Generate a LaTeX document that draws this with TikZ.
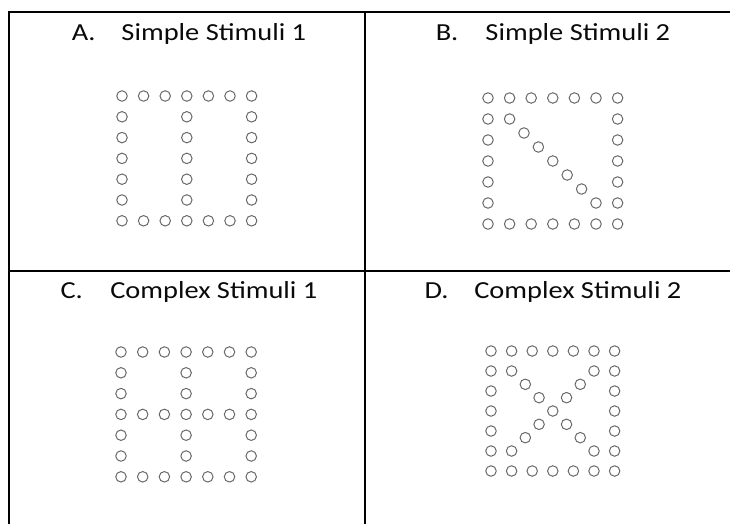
\documentclass[tikz,border=0pt]{standalone}
\usepackage{fontspec}
\usepackage{graphicx}
\setmainfont{Carlito}
\usetikzlibrary{positioning}
\definecolor{ink}{RGB}{10,10,10}
\definecolor{ring}{RGB}{105,105,105}
\tikzset{
  rule/.style={draw=black,line width=2pt},
  caption/.style={anchor=base,text=ink,font=\fontsize{24.5}{29}\selectfont},
  dot/.style={circle,draw=ring,line width=1pt,inner sep=0pt,minimum size=10.5pt},
}
% stretched title with a numbered label
\newcommand\stimtitle[2]{\scalebox{1.16}[1]{\makebox[1.75em][l]{#1}#2}}
% square frame of 7 x 7 rings, names #1-i-j
\newcommand\ringframe[1]{%
  \foreach \i in {0,...,6} {
    \node[dot] (#1-\i-0) at (\i,0) {};
    \node[dot] (#1-\i-6) at (\i,6) {};
  }
  \foreach \j in {1,...,5} {
    \node[dot] (#1-0-\j) at (0,\j) {};
    \node[dot] (#1-6-\j) at (6,\j) {};
  }}

\begin{document}
\begin{tikzpicture}[x=1pt,y=-1pt]
  \useasboundingbox (0,0) rectangle (730,524);
  % table rules
  \draw[rule] (9,525) -- (9,12) -- (731,12);
  \draw[rule] (9,271) -- (731,271);
  \draw[rule] (365,12) -- (365,525);

  % titles
  \node[caption] (capA) at (189,40.5) {\stimtitle{A.}{Simple Stimuli 1}};
  \node[caption] (capB) at (553,40.5) {\stimtitle{B.}{Simple Stimuli 2}};
  \node[caption] (capC) at (189,298) {\stimtitle{C.}{Complex Stimuli 1}};
  \node[caption] (capD) at (553,298) {\stimtitle{D.}{Complex Stimuli 2}};

  % A: frame and middle column
  \begin{scope}[shift={(122,96)},x=21.6pt,y=-20.8pt]
    \ringframe{a}
    \foreach \j in {1,...,5} \node[dot] (a-3-\j) at (3,\j) {};
  \end{scope}

  % B: frame and one diagonal
  \begin{scope}[shift={(488,98)},x=21.6pt,y=-21pt]
    \ringframe{b}
    \foreach \k in {0,...,6} \node[dot] (b-d-\k) at ({1+\k*2/3},{1+\k*2/3}) {};
  \end{scope}

  % C: frame, middle column and middle row
  \begin{scope}[shift={(121,352)},x=21.7pt,y=-20.8pt]
    \ringframe{c}
    \foreach \j in {1,2,4,5} \node[dot] (c-3-\j) at (3,\j) {};
    \foreach \i in {1,...,5} \node[dot] (c-\i-3) at (\i,3) {};
  \end{scope}

  % D: frame and both diagonals
  \begin{scope}[shift={(491,351)},x=20.6pt,y=-20pt]
    \ringframe{d}
    \foreach \k in {0,...,6} \node[dot] (d-d-\k) at ({1+\k*2/3},{1+\k*2/3}) {};
    \foreach \k in {0,1,2,4,5,6} \node[dot] (d-e-\k) at ({5-\k*2/3},{1+\k*2/3}) {};
  \end{scope}
\end{tikzpicture}
\end{document}
